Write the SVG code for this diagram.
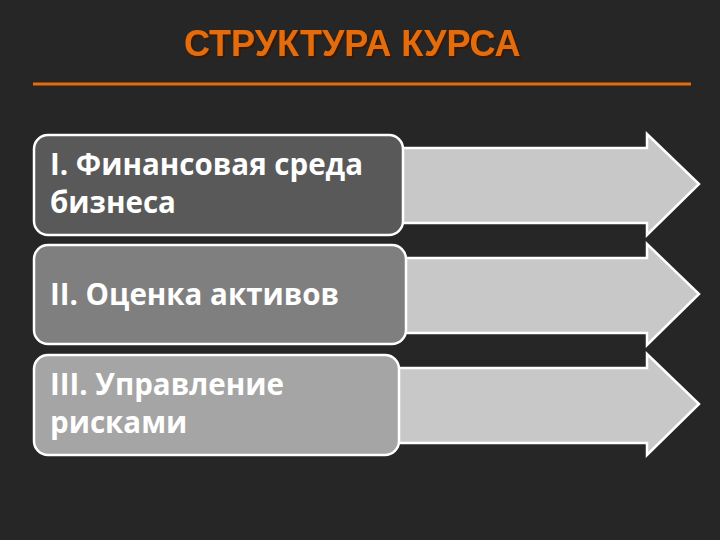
<svg xmlns="http://www.w3.org/2000/svg" width="720" height="540" viewBox="0 0 720 540">
<defs>
<filter id="shadow" x="-5%" y="-20%" width="110%" height="150%">
<feDropShadow dx="2" dy="2" stdDeviation="0.6" flood-color="#3a1800" flood-opacity="0.9"/>
</filter>
</defs>
<style>
.bg{fill:#262626}
.title{font-family:"Liberation Sans",Arial,sans-serif;font-weight:bold;font-size:36px;fill:#e46c0a}
.arrow{fill:#c8c8c8;stroke:#ffffff;stroke-width:2.5;stroke-linejoin:miter}
.box{stroke:#ffffff;stroke-width:2.5}
.lbl{font-family:"Open Sans","Noto Sans",sans-serif;font-weight:bold;font-size:29.5px;fill:#ffffff}
</style>
<rect class="bg" x="0" y="0" width="720" height="540"/>
<g id="title">
<text class="title" x="184" y="56" filter="url(#shadow)">СТРУКТУРА КУРСА</text>
<line x1="33" y1="84" x2="691" y2="84" stroke="#e46c0a" stroke-width="3"/>
</g>
<g id="arrows">
<polygon id="arrow1" class="arrow" points="390,148 647,148 647,134 699,184 647,235 647,223 390,223"/>
<polygon id="arrow2" class="arrow" points="390,258 647,258 647,244 699,294 647,345 647,333 390,333"/>
<polygon id="arrow3" class="arrow" points="390,368 647,368 647,354 699,404 647,455 647,443 390,443"/>
</g>
<g id="node1">
<rect class="box" x="34" y="135" width="369" height="100" rx="14" fill="#595959"/>
<text class="lbl" x="50" y="175">I. Финансовая среда</text>
<text class="lbl" x="50" y="213">бизнеса</text>
</g>
<g id="node2">
<rect class="box" x="34" y="245" width="372" height="99" rx="14" fill="#7f7f7f"/>
<text class="lbl" x="50" y="305">II. Оценка активов</text>
</g>
<g id="node3">
<rect class="box" x="34" y="355" width="365" height="100" rx="14" fill="#a5a5a5"/>
<text class="lbl" x="50" y="395">III. Управление</text>
<text class="lbl" x="50" y="433">рисками</text>
</g>
</svg>
